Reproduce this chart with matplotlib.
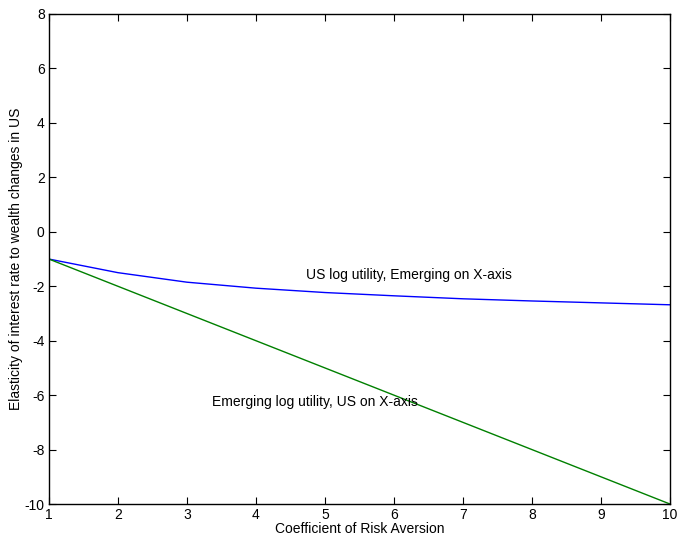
import matplotlib
matplotlib.use('Agg')
import matplotlib.pyplot as plt
import numpy as np

plt.rcParams['font.family'] = ['Liberation Sans', 'DejaVu Sans']
plt.rcParams['axes.unicode_minus'] = False

# 数据
risk_aversion = [1, 2, 3, 4, 5, 6, 7, 8, 9, 10]
us_log = [-1.0, -1.5, -1.85, -2.07, -2.23, -2.35, -2.46, -2.54, -2.61, -2.68]
emerging_log = [-1, -2, -3, -4, -5, -6, -7, -8, -9, -10]
x_ticks = [1, 2, 3, 4, 5, 6, 7, 8, 9, 10]
y_ticks = [-10, -8, -6, -4, -2, 0, 2, 4, 6, 8]

fig = plt.figure(figsize=(6.79, 5.38), dpi=100)
ax = fig.add_axes([0.072, 0.063, 0.915, 0.911])

ax.plot(risk_aversion, us_log, color='#0000ff', linewidth=1.0)
ax.plot(risk_aversion, emerging_log, color='#008000', linewidth=1.0)

ax.text(4.73, -1.58, 'US log utility, Emerging on X-axis', fontsize=10, va='center', ha='left')
ax.text(3.37, -6.25, 'Emerging log utility, US on X-axis', fontsize=10, va='center', ha='left')

ax.set_xlim(1, 10)
ax.set_ylim(-10, 8)
ax.set_xticks(x_ticks)
ax.set_yticks(y_ticks)
ax.tick_params(direction='in', top=True, right=True, length=5, labelsize=10, width=0.8, pad=3)
ax.set_xlabel('Coefficient of Risk Aversion', fontsize=10, labelpad=0)
ax.set_ylabel('Elasticity of interest rate to wealth changes in US', fontsize=10, labelpad=1)
for s in ax.spines.values():
    s.set_linewidth(1.0)

fig.savefig('out.png', dpi=100)
